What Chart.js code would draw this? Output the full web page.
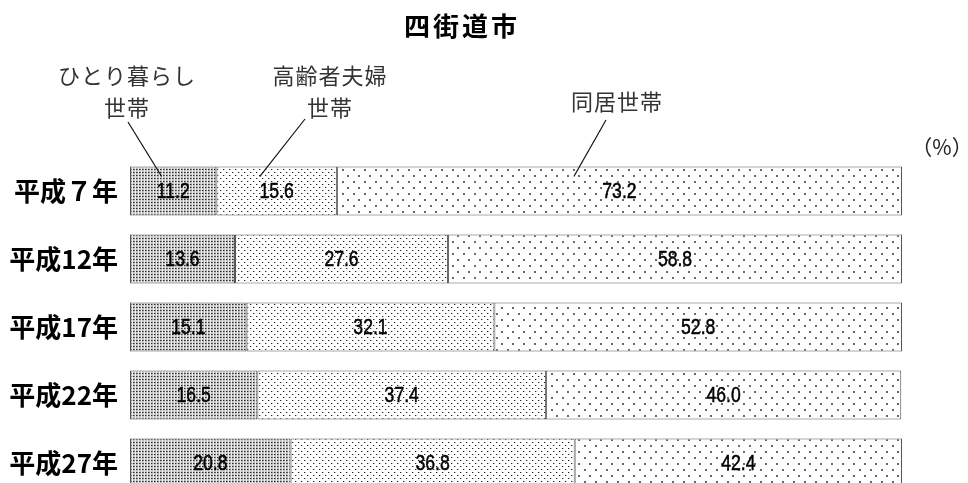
<!DOCTYPE html>
<html>
<head>
<meta charset="utf-8">
<script src="https://cdn.jsdelivr.net/npm/chart.js@4/dist/chart.umd.min.js"></script>
<style>
html,body{margin:0;padding:0;background:#fff;overflow:hidden;}
#wrap{width:968px;height:500px;}
</style>
</head>
<body>
<div id="wrap"><canvas id="c" width="968" height="500"></canvas></div>
<script>
// ---- data ----
const categories = ['平成７年', '平成12年', '平成17年', '平成22年', '平成27年'];
const seriesNames = ['ひとり暮らし世帯', '高齢者夫婦世帯', '同居世帯'];
const livingAlone = [11.2, 13.6, 15.1, 16.5, 20.8];
const elderlyCouple = [15.6, 27.6, 32.1, 37.4, 36.8];
const livingTogether = [73.2, 58.8, 52.8, 46.0, 42.4];
const titleText = '四街道市';
const unitText = '（%）';
// annotation labels (lines of text) and the value inside the first bar where the leader ends
const annotLines = [['ひとり暮らし', '世帯'], ['高齢者夫婦', '世帯'], ['同居世帯']];
const annotTargets = [4.1, 16.8, 57.5];

// ---- patterns ----
function makePattern(w, h, bg, rects) {
  const c = document.createElement('canvas');
  c.width = w; c.height = h;
  const g = c.getContext('2d');
  g.fillStyle = bg; g.fillRect(0, 0, w, h);
  rects.forEach(r => { g.fillStyle = r[4]; g.fillRect(r[0], r[1], r[2], r[3]); });
  return document.getElementById('c').getContext('2d').createPattern(c, 'repeat');
}
const pat1 = makePattern(3, 3, '#c4c4c4', [[0, 0, 1, 3, '#ececec'], [1, 1, 1, 1, '#2a2a2a'], [2, 1, 1, 1, '#777']]);
const pat2 = makePattern(6, 6, '#ffffff', [[1, 1, 1, 1, '#222'], [4, 4, 1, 1, '#222'], [2, 1, 1, 1, '#bbb'], [5, 4, 1, 1, '#bbb']]);
const pat3 = makePattern(11, 12, '#ffffff', [[1, 1, 2, 2, '#6a6a6a'], [6, 7, 2, 2, '#6a6a6a']]);

const FONT_JP = "'Noto Sans CJK JP', sans-serif";
const FONT_NUM = "'Liberation Sans', Arial, sans-serif";

const decor = {
  id: 'decor',
  afterDatasetsDraw(chart) {
    const ctx = chart.ctx;
    ctx.save();
    // value labels (condensed)
    ctx.fillStyle = '#000';
    ctx.strokeStyle = '#000';
    ctx.lineWidth = 0.5;
    ctx.font = '22px ' + FONT_NUM;
    ctx.textAlign = 'center';
    ctx.textBaseline = 'middle';
    chart.data.datasets.forEach((ds, di) => {
      const meta = chart.getDatasetMeta(di);
      meta.data.forEach((el, i) => {
        const cx = (el.x + el.base) / 2;
        const t = ds.data[i].toFixed(1);
        ctx.save();
        ctx.translate(cx, el.y + 1);
        ctx.scale(0.8, 1);
        ctx.fillText(t, 0, 0);
        ctx.strokeText(t, 0, 0);
        ctx.restore();
      });
    });
    // title
    ctx.font = 'bold 26px ' + FONT_JP;
    ctx.fillStyle = '#000';
    ctx.letterSpacing = '3px';
    ctx.fillText(titleText, 462, 26);
    ctx.letterSpacing = '0px';
    // unit
    ctx.font = '21px ' + FONT_JP;
    ctx.fillStyle = '#222';
    ctx.fillText(unitText, 942, 147);
    // annotations
    const xs = chart.scales.x;
    const el0 = chart.getDatasetMeta(0).data[0];
    const barTop = el0.y - el0.height / 2;
    const endY = barTop + 10;
    const labelCenters = [127, 330, 617];
    const labelTops = [76, 76, 102];
    const lineStarts = [[128, 122], [305, 119], [606, 120]];
    ctx.font = '22px ' + FONT_JP;
    ctx.fillStyle = '#333';
    ctx.letterSpacing = '1px';
    annotLines.forEach((lines, k) => {
      lines.forEach((t, j) => ctx.fillText(t, labelCenters[k], labelTops[k] + j * 32));
    });
    ctx.letterSpacing = '0px';
    annotLines.forEach((lines, k) => {
      ctx.beginPath();
      ctx.strokeStyle = '#111';
      ctx.lineWidth = 1.2;
      ctx.moveTo(lineStarts[k][0], lineStarts[k][1]);
      ctx.lineTo(xs.getPixelForValue(annotTargets[k]), endY);
      ctx.stroke();
    });
    ctx.restore();
  }
};

new Chart(document.getElementById('c'), {
  type: 'bar',
  data: {
    labels: categories,
    datasets: [
      { label: seriesNames[0], data: livingAlone, backgroundColor: pat1 },
      { label: seriesNames[1], data: elderlyCouple, backgroundColor: pat2 },
      { label: seriesNames[2], data: livingTogether, backgroundColor: pat3 }
    ].map(d => Object.assign(d, { borderColor: '#555', borderWidth: 1, borderSkipped: false,
      barPercentage: 0.72, categoryPercentage: 1.0 }))
  },
  options: {
    indexAxis: 'y',
    responsive: false,
    animation: false,
    devicePixelRatio: 1,
    layout: { padding: { left: 0, right: 66, top: 157, bottom: 3 } },
    plugins: { legend: { display: false }, tooltip: { enabled: false }, title: { display: false } },
    scales: {
      x: { stacked: true, min: 0, max: 100, display: false },
      y: {
        stacked: true,
        grid: { display: false, drawTicks: false },
        border: { display: false },
        ticks: { color: '#000', padding: 12, font: { family: FONT_JP, size: 26, weight: 'bold' } },
        afterFit(axis) { axis.width = 130; axis.paddingTop = 0; axis.paddingBottom = 0; }
      }
    }
  },
  plugins: [decor]
});
</script>
</body>
</html>
